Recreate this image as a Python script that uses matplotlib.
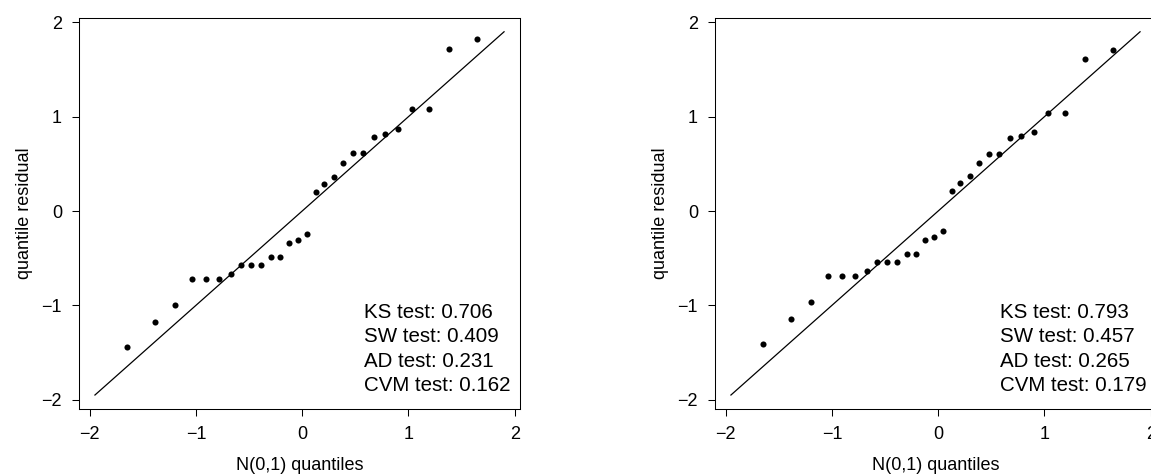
import matplotlib.pyplot as plt

plt.rcParams["font.family"] = ["Liberation Sans", "DejaVu Sans"]
plt.rcParams["axes.unicode_minus"] = True

# N(0,1) quantiles on the x axis (same for both panels)
norm_quantiles = [-1.645, -1.383, -1.192, -1.036, -0.903, -0.783, -0.674,
                  -0.573, -0.477, -0.385, -0.297, -0.210, -0.126, -0.042,
                  0.042, 0.126, 0.210, 0.297, 0.385, 0.477, 0.573,
                  0.674, 0.783, 0.903, 1.036, 1.192, 1.383, 1.645]

resid_left = [-1.442, -1.177, -0.996, -0.721, -0.721, -0.721, -0.668,
              -0.572, -0.572, -0.572, -0.488, -0.488, -0.339, -0.307,
              -0.244, 0.201, 0.286, 0.364, 0.509, 0.615, 0.615,
              0.784, 0.816, 0.869, 1.081, 1.081, 1.717, 1.823]

resid_right = [-1.410, -1.148, -0.968, -0.693, -0.693, -0.693, -0.640,
               -0.544, -0.544, -0.544, -0.459, -0.459, -0.307, -0.279,
               -0.212, 0.208, 0.293, 0.367, 0.505, 0.601, 0.601,
               0.770, 0.792, 0.834, 1.035, 1.035, 1.608, 1.703]

test_names = ["KS test", "SW test", "AD test", "CVM test"]
pvals_left = [0.706, 0.409, 0.231, 0.162]
pvals_right = [0.793, 0.457, 0.265, 0.179]

ref_line = [-1.95, 1.9]

W, H = 1151, 474


def draw_panel(ax, resid, pvals):
    ax.plot(ref_line, ref_line, color="black", lw=0.9)
    ax.plot(norm_quantiles, resid, "o", color="black", markersize=4.4,
            markeredgewidth=0)

    ax.set_xlim(-2.1, 2.05)
    ax.set_ylim(-2.095, 2.046)
    ax.set_xticks([-2, -1, 0, 1, 2])
    ax.set_yticks([-2, -1, 0, 1, 2])
    ax.tick_params(direction="out", length=5.3, width=0.75, pad=7,
                   labelsize=13, colors="black")
    for sp in ax.spines.values():
        sp.set_linewidth(0.75)
        sp.set_color("black")

    # axis titles placed like R's mtext lines
    ax.text(0.5, -0.157, "N(0,1) quantiles", transform=ax.transAxes,
            ha="center", va="baseline", fontsize=13)
    ax.text(-0.1134, 0.5, "quantile residual", transform=ax.transAxes,
            rotation=90, rotation_mode="anchor", ha="center", va="baseline",
            fontsize=13)

    baselines = [-1.137, -1.391, -1.649, -1.911]
    for name, p, yb in zip(test_names, pvals, baselines):
        ax.text(0.585, yb, f"{name}: {p:.3f}", ha="left", va="baseline",
                fontsize=14.75)


def main():
    fig = plt.figure(figsize=(W / 100, H / 100), dpi=100)
    bottom = (H - 408.7) / H
    height = 390.7 / H
    ax1 = fig.add_axes([79 / W, bottom, 441 / W, height])
    ax2 = fig.add_axes([715 / W, bottom, 441 / W, height])
    draw_panel(ax1, resid_left, pvals_left)
    draw_panel(ax2, resid_right, pvals_right)
    fig.savefig("out.png", dpi=100)


if __name__ == "__main__":
    main()
